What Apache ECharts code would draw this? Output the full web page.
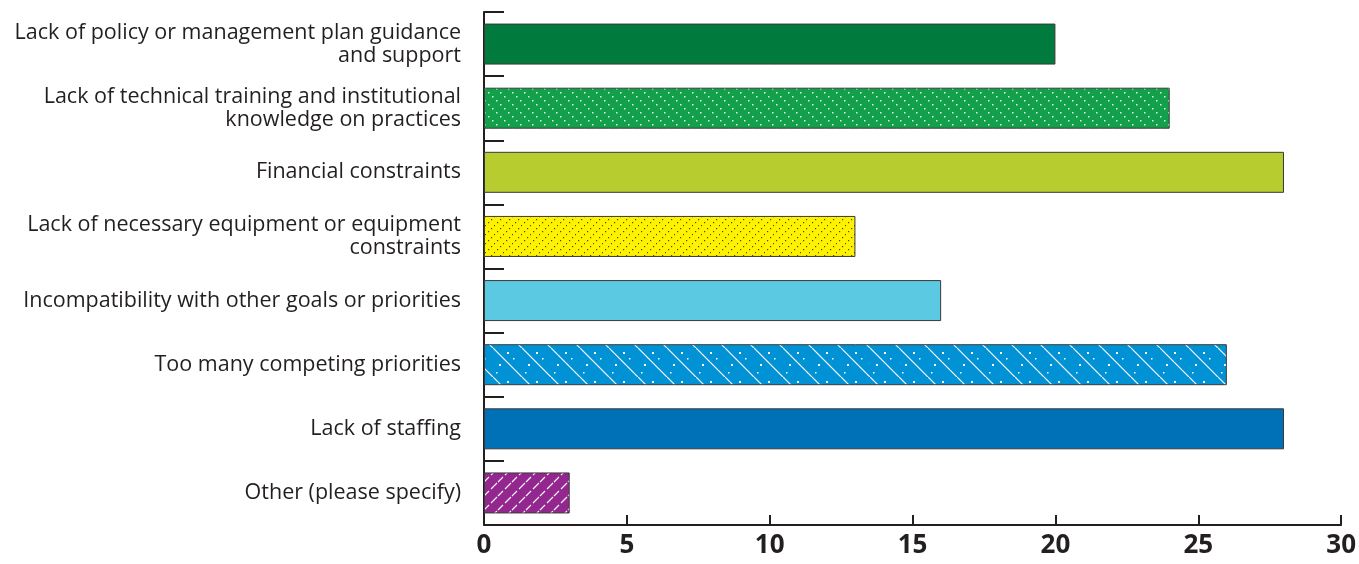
<!DOCTYPE html>
<html>
<head>
<meta charset="utf-8">
<script src="https://cdn.jsdelivr.net/npm/echarts@6/dist/echarts.min.js"></script>
<style>
  html, body { margin: 0; padding: 0; background: #fff; }
  #main { width: 1359px; height: 564px; }
</style>
</head>
<body>
<div id="main"></div>
<script>
var categories = [
    'Lack of policy or management plan guidance\nand support',
    'Lack of technical training and institutional\nknowledge on practices',
    'Financial constraints',
    'Lack of necessary equipment or equipment\nconstraints',
    'Incompatibility with other goals or priorities',
    'Too many competing priorities',
    'Lack of staffing',
    'Other (please specify)'
];
var values = [20, 24, 28, 13, 16, 26, 28, 3];
var xTicks = [0, 5, 10, 15, 20, 25, 30];

// pattern helpers
function makePattern(w, h, bg, draw) {
    var c = document.createElement('canvas');
    c.width = w; c.height = h;
    var ctx = c.getContext('2d');
    ctx.fillStyle = bg;
    ctx.fillRect(0, 0, w, h);
    draw(ctx);
    return { image: c, repeat: 'repeat' };
}

// white dots on "\" diagonals
var greenDots = makePattern(12, 12, '#13a04a', function (ctx) {
    ctx.fillStyle = 'rgba(255,255,255,0.9)';
    for (var i = 0; i < 12; i += 4) {
        ctx.fillRect(i, i, 1.5, 1.5);
    }
});
// dark dots on "/" diagonals
var yellowDots = makePattern(9, 9, '#fff200', function (ctx) {
    ctx.fillStyle = '#4a4a20';
    for (var i = 0; i < 9; i += 3) {
        ctx.fillRect(8 - i, i, 1.2, 1.2);
    }
});
// white "\" lines with dots between
var blueLines = makePattern(29, 29, '#0092d5', function (ctx) {
    ctx.strokeStyle = '#ffffff';
    ctx.lineWidth = 1.2;
    ctx.beginPath();
    ctx.moveTo(0, 0); ctx.lineTo(29, 29);
    ctx.moveTo(-15, 14); ctx.lineTo(0, 29);
    ctx.stroke();
    ctx.fillStyle = '#ffffff';
    ctx.fillRect(14, 4, 2, 2);
    ctx.fillRect(20, 10, 1.5, 1.5);
    ctx.fillRect(6, 16, 2, 2);
    ctx.fillRect(3, 24, 1.5, 1.5);
});
// white "/" dashes
var purpleDash = makePattern(14, 14, '#93278f', function (ctx) {
    ctx.strokeStyle = '#ffffff';
    ctx.lineWidth = 1.1;
    ctx.beginPath();
    ctx.moveTo(1, 13); ctx.lineTo(7, 7);
    ctx.moveTo(8, 6); ctx.lineTo(13, 1);
    ctx.stroke();
});

var barColors = ['#007b3d', greenDots, '#b6cc2f', yellowDots, '#5bc9e2', blueLines, '#0071b6', purpleDash];

var dom = document.getElementById('main');
var myChart = echarts.init(dom);

myChart.setOption({
    animation: false,
    grid: { left: 484, right: 17, top: 12, bottom: 39 },
    xAxis: {
        type: 'value',
        min: 0,
        max: 30,
        interval: 5,
        axisLine: { show: true, lineStyle: { color: '#231f20', width: 2 } },
        axisTick: { show: true, inside: true, length: 10, lineStyle: { color: '#231f20', width: 2 } },
        axisLabel: {
            color: '#231f20',
            fontFamily: 'Open Sans',
            fontWeight: 'bold',
            fontSize: 26,
            margin: 8,
            formatter: function (v) { return xTicks.indexOf(v) >= 0 ? v : ''; }
        },
        splitLine: { show: false }
    },
    yAxis: {
        type: 'category',
        inverse: true,
        data: categories,
        axisLine: { show: true, lineStyle: { color: '#231f20', width: 2 } },
        axisTick: { show: true, inside: true, length: 20, interval: 0, lineStyle: { color: '#231f20', width: 2 } },
        axisLabel: {
            color: '#231f20',
            fontFamily: 'Open Sans',
            fontSize: 21.5,
            lineHeight: 23,
            margin: 23,
            align: 'right',
            interval: 0
        }
    },
    series: [{
        type: 'bar',
        barWidth: 41,
        data: values.map(function (v, i) {
            return {
                value: v,
                itemStyle: { color: barColors[i], borderColor: '#3a3a3a', borderWidth: 1 }
            };
        })
    }]
});

window.onresize = function () {
    myChart.resize();
};
</script>
</body>
</html>
